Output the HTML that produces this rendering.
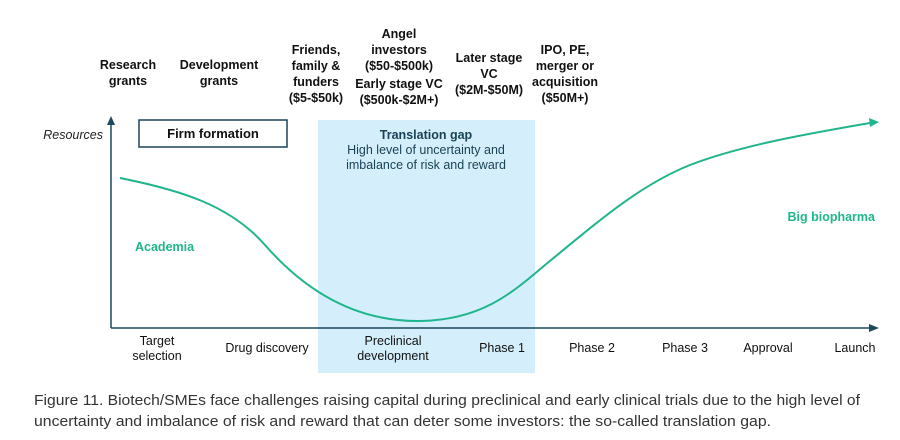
<!DOCTYPE html>
<html><head><meta charset="utf-8"><style>
body{margin:0;background:#fff;width:900px;height:440px;overflow:hidden;font-family:"Liberation Sans",sans-serif}
svg{position:absolute;left:0;top:0}
</style></head><body>
<svg width="900" height="440" viewBox="0 0 900 440" font-family="Liberation Sans, sans-serif">
<rect x="318" y="120" width="217" height="253" fill="#d4effb"/>
<rect x="139" y="120" width="148" height="27" fill="#fff" stroke="#1a4256" stroke-width="1.5"/>
<text x="213" y="138" font-size="13" font-weight="bold" text-anchor="middle" fill="#111">Firm formation</text>
<g font-size="12.5" font-weight="bold" text-anchor="middle" fill="#111">
<text x="128" y="69">Research</text><text x="128" y="85">grants</text>
<text x="219" y="69">Development</text><text x="219" y="85">grants</text>
<text x="316" y="54">Friends,</text><text x="316" y="70">family &amp;</text><text x="316" y="86">funders</text><text x="316" y="102">($5-$50k)</text>
<text x="399" y="38">Angel</text><text x="399" y="54">investors</text><text x="399" y="70">($50-$500k)</text>
<text x="399" y="88">Early stage VC</text><text x="399" y="104">($500k-$2M+)</text>
<text x="489" y="62">Later stage</text><text x="489" y="78">VC</text><text x="489" y="94">($2M-$50M)</text>
<text x="565" y="54">IPO, PE,</text><text x="565" y="70">merger or</text><text x="565" y="86">acquisition</text><text x="565" y="102">($50M+)</text>
</g>
<text x="426" y="139" font-size="12.5" font-weight="bold" text-anchor="middle" fill="#1a4256">Translation gap</text>
<text x="426" y="154" font-size="12.5" text-anchor="middle" fill="#1a4256">High level of uncertainty and</text>
<text x="426" y="169" font-size="12.5" text-anchor="middle" fill="#1a4256">imbalance of risk and reward</text>
<text x="103" y="139" font-size="12.5" font-style="italic" text-anchor="end" fill="#222">Resources</text>
<line x1="111" y1="328" x2="111" y2="124" stroke="#1a4a5c" stroke-width="1.5"/>
<polygon points="111,116 107,125 115,125" fill="#1a4a5c"/>
<line x1="111" y1="328" x2="870" y2="328" stroke="#1a4a5c" stroke-width="1.5"/>
<polygon points="879,328 869,324 869,332" fill="#1a4a5c"/>
<path d="M120,178 C180,190 230,205 265,245 C300,285 350,322 420,321 C480,320 510,295 545,265 C600,220 640,185 690,165 C740,146 800,135 870,123" fill="none" stroke="#20b58c" stroke-width="2"/>
<polygon points="879,122 869,118 870,127" fill="#20b58c"/>
<text x="135" y="251" font-size="12.5" font-weight="bold" fill="#20b58c">Academia</text>
<text x="875" y="221" font-size="12.5" font-weight="bold" text-anchor="end" fill="#20b58c">Big biopharma</text>
<g font-size="12.5" text-anchor="middle" fill="#111">
<text x="157" y="345">Target</text><text x="157" y="360">selection</text>
<text x="267" y="352">Drug discovery</text>
<text x="393" y="345">Preclinical</text><text x="393" y="360">development</text>
<text x="502" y="352">Phase 1</text>
<text x="592" y="352">Phase 2</text>
<text x="685" y="352">Phase 3</text>
<text x="768" y="352">Approval</text>
<text x="855" y="352">Launch</text>
</g>
<g font-size="15" fill="#333">
<text x="34" y="405" textLength="826" lengthAdjust="spacingAndGlyphs">Figure 11. Biotech/SMEs face challenges raising capital during preclinical and early clinical trials due to the high level of</text>
<text x="34" y="426" textLength="737" lengthAdjust="spacingAndGlyphs">uncertainty and imbalance of risk and reward that can deter some investors: the so-called translation gap.</text>
</g>
</svg>
</body></html>
